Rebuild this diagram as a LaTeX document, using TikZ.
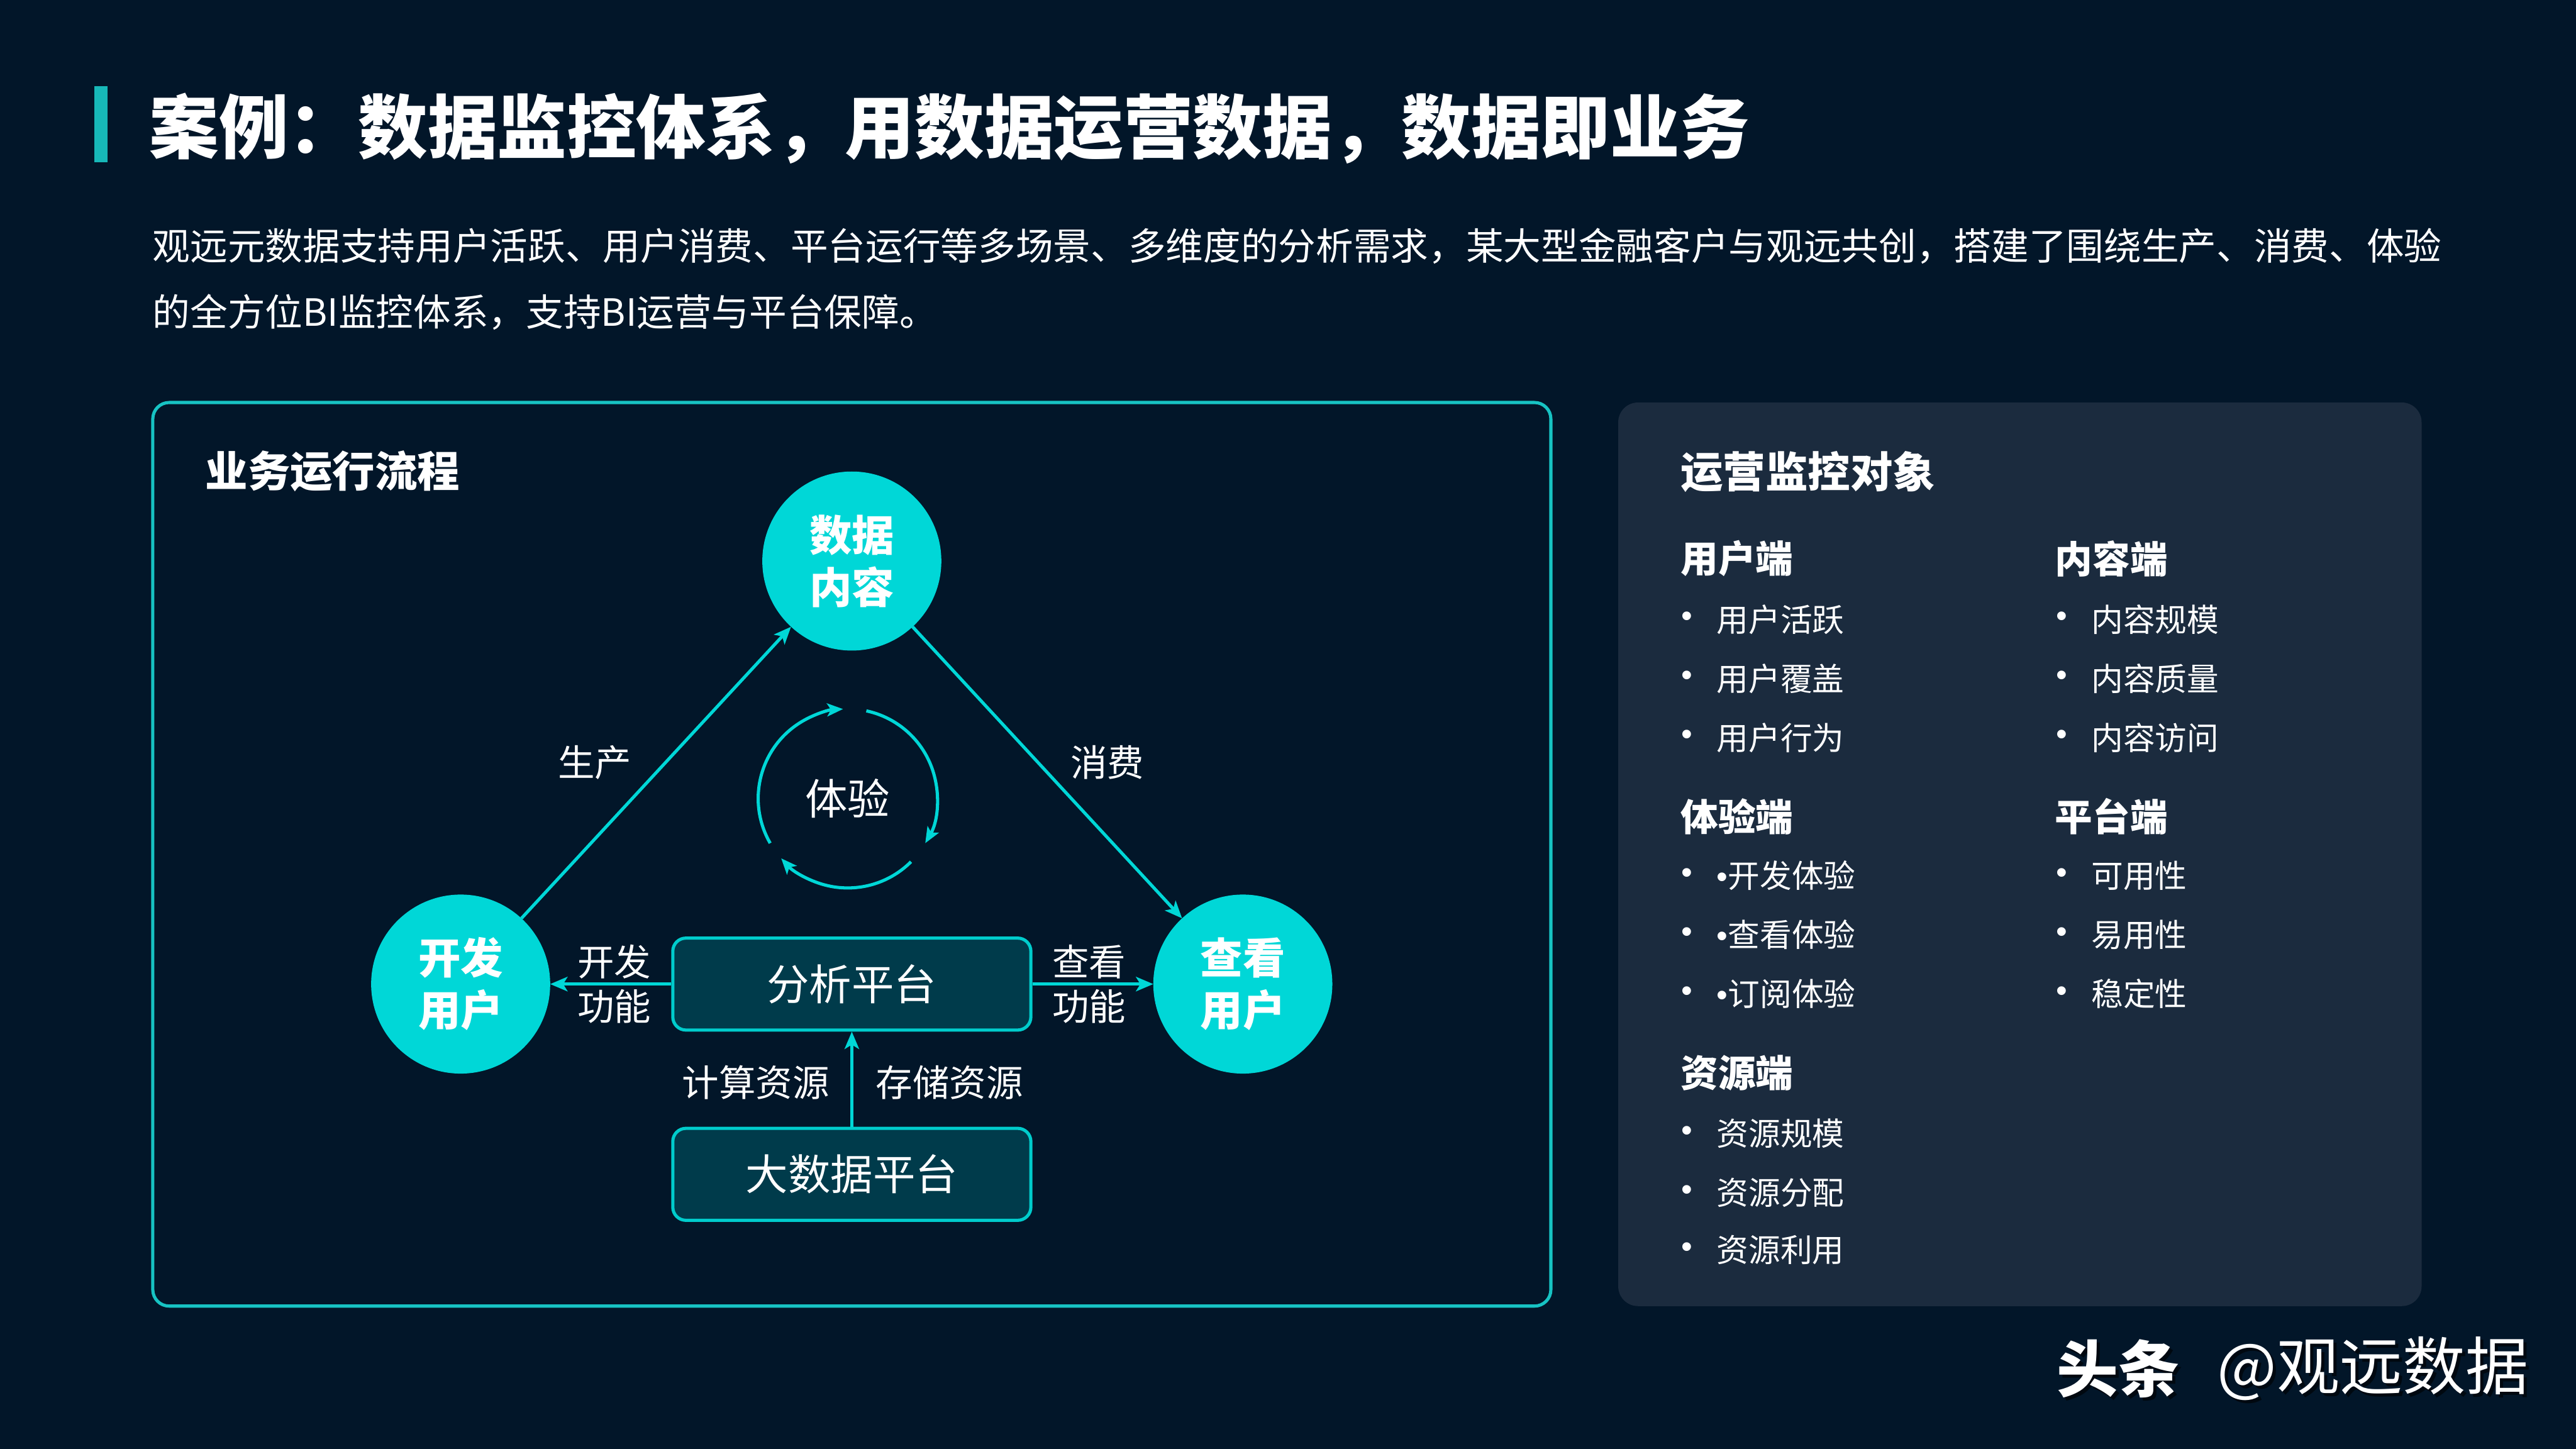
\documentclass[tikz,border=0pt]{standalone}
\usepackage{fontspec}
\setmainfont{Noto Sans CJK SC}
\newfontfamily\bulletfont{Liberation Sans}
\usetikzlibrary{arrows.meta}
\definecolor{bgc}{HTML}{021629}
\definecolor{rpanel}{HTML}{1B2B3E}
\definecolor{cyanc}{HTML}{00D7D7}
\definecolor{panelb}{HTML}{17C3C3}
\definecolor{boxf}{HTML}{003B4B}
\definecolor{boxb}{HTML}{00CCCC}
\definecolor{accent}{HTML}{17B8B8}
\newcommand\myfs[2]{\fontsize{#1}{#2}\selectfont}
\newcommand\bul{{\bulletfont •}}
\tikzset{
  txt/.style={inner sep=0pt, outer sep=0pt, text=white},
  titletxt/.style={txt, anchor=west, font=\bfseries\myfs{24.1}{28}},
  paratxt/.style={txt, anchor=west, font=\myfs{13.0}{16}},
  headtxt/.style={txt, anchor=west, font=\bfseries\myfs{14.7}{18}},
  subtxt/.style={txt, anchor=west, font=\bfseries\myfs{13}{16}},
  itemtxt/.style={txt, anchor=west, font=\myfs{11.05}{14}},
  bullettxt/.style={txt, font=\bulletfont\myfs{11.05}{14}},
  labeltxt/.style={txt, align=center, font=\myfs{12.75}{15.3}},
  bigcirc/.style={circle, fill=cyanc, minimum size=2.18cm, inner sep=0pt, outer sep=0pt,
    text=white, align=center, font=\bfseries\myfs{14.7}{18.1}},
  platbox/.style={draw=boxb, fill=boxf, line width=1.1pt, rounded corners=0.16cm,
    minimum width=4.36cm, minimum height=1.12cm, inner sep=0pt, text=white,
    font=\myfs{14.7}{18}},
  conn/.style={draw=cyanc, line width=1.1pt, -{Stealth[length=6pt,width=5pt,inset=1.5pt]}},
  cycarr/.style={draw=cyanc, line width=1.1pt, -{Stealth[length=5.5pt,width=4.5pt,inset=1.3pt]}}
}
\begin{document}
\begin{tikzpicture}[x=0.02cm,y=-0.02cm]
\fill[bgc] (0,0) rectangle (1568,882);
\useasboundingbox (0,0) rectangle (1568,882);
% title
\fill[accent] (57.6,52.3) rectangle (65.6,98.9);
\node[titletxt] (title) at (91,78) {案例：数据监控体系，用数据运营数据，数据即业务};
\node[paratxt] (p1) at (93,150) {观远元数据支持用户活跃、用户消费、平台运行等多场景、多维度的分析需求，某大型金融客户与观远共创，搭建了围绕生产、消费、体验};
\node[paratxt] (p2) at (93,190) {的全方位BI监控体系，支持BI运营与平台保障。};
% left panel
\draw[panelb, line width=1.1pt, rounded corners=0.2cm] (93,245) rectangle (944,795);
\node[headtxt] (lh) at (125,287) {业务运行流程};
% circles
\node[bigcirc] (sj) at (518.5,341.5) {数据\\内容};
\node[bigcirc] (kf) at (280.4,599) {开发\\用户};
\node[bigcirc] (ck) at (756.5,599) {查看\\用户};
\draw[conn] (kf) -- (sj);
\draw[conn] (sj) -- (ck);
\node[labeltxt] (sc) at (362,464) {生产};
\node[labeltxt] (xf) at (674,464) {消费};
% cycle
\coordinate (cyc) at (516,486);
\node[txt, font=\myfs{14.7}{18}] (ty) at (cyc) {体验};
\draw[cycarr] ([shift={(78:1.09cm)}]cyc) arc[start angle=78, end angle=-30, radius=1.09cm];
\draw[cycarr] ([shift={(-45:1.09cm)}]cyc) arc[start angle=-45, end angle=-138, radius=1.09cm];
\draw[cycarr] ([shift={(-150:1.09cm)}]cyc) arc[start angle=-150, end angle=-267, radius=1.09cm];
% platforms
\node[platbox] (fx) at (518.5,599) {分析平台};
\node[platbox] (dsj) at (518.5,714.8) {大数据平台};
\draw[conn] (fx) -- (kf);
\draw[conn] (fx) -- (ck);
\draw[conn] (dsj) -- (fx);
\node[labeltxt] (kfgn) at (374,599) {开发\\功能};
\node[labeltxt] (ckgn) at (663,599) {查看\\功能};
\node[labeltxt] (js) at (460,659) {计算资源};
\node[labeltxt] (cc) at (578,659) {存储资源};
% right panel
\fill[rpanel, rounded corners=0.24cm] (985,245) rectangle (1474,795);
\node[headtxt] (rh) at (1023,287) {运营监控对象};
\node[subtxt] (yh) at (1023,340) {用户端};
\node[subtxt] (ty2) at (1023,497) {体验端};
\node[subtxt] (zy) at (1023,653) {资源端};
\node[subtxt] (nr) at (1251,340) {内容端};
\node[subtxt] (pt) at (1251,497) {平台端};
\foreach \y/\t [count=\i] in {377/用户活跃, 413/用户覆盖, 449/用户行为, 533/\bul 开发体验, 569/\bul 查看体验, 605/\bul 订阅体验, 690/资源规模, 726/资源分配, 761/资源利用}{
  \node[bullettxt] (lb\i) at (1027,\y) {•};
  \node[itemtxt] (li\i) at (1045,\y) {\t};
}
\foreach \y/\t [count=\i] in {377/内容规模, 413/内容质量, 449/内容访问, 533/可用性, 569/易用性, 605/稳定性}{
  \node[bullettxt] (rb\i) at (1255,\y) {•};
  \node[itemtxt] (ri\i) at (1273,\y) {\t};
}
% watermark
\node[txt, anchor=west, text=black, opacity=0.6, font=\bfseries\myfs{21.3}{24}] (wm1s) at (1254,835) {头条};
\node[txt, anchor=east, text=black, opacity=0.6, font=\myfs{21.8}{24}] (wm2s) at (1541,835) {@观远数据};
\node[txt, anchor=west, font=\bfseries\myfs{21.3}{24}] (wm1) at (1252,833) {头条};
\node[txt, anchor=east, font=\myfs{21.8}{24}] (wm2) at (1539,833) {@观远数据};
\end{tikzpicture}
\end{document}
